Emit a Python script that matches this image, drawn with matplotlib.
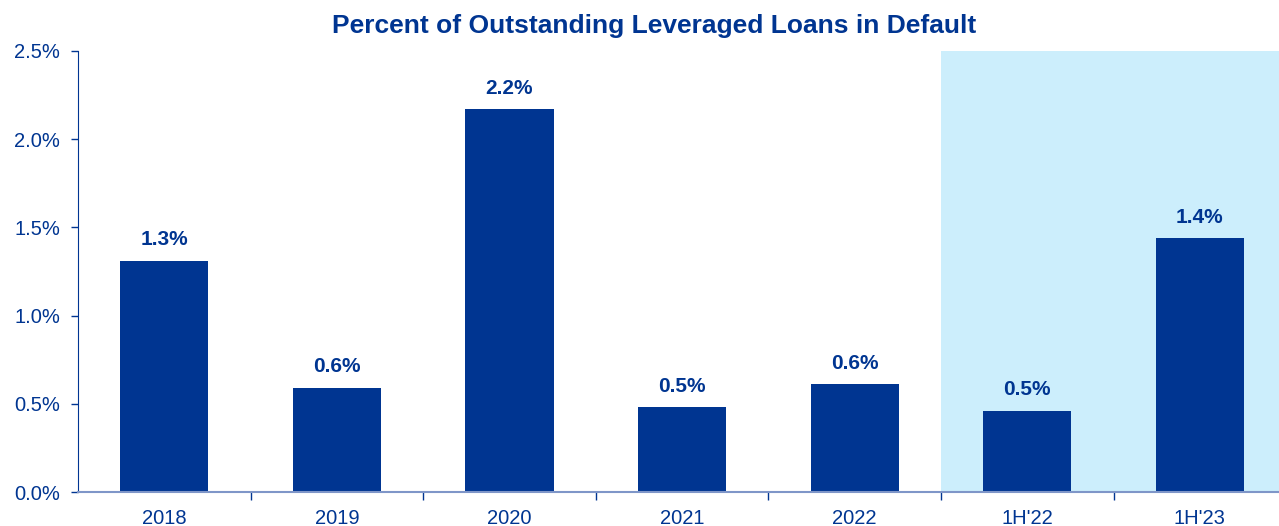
import numpy as np
import matplotlib
matplotlib.use('Agg')
import matplotlib.pyplot as plt

categories = ['2018', '2019', '2020', '2021', '2022', "1H'22", "1H'23"]
default_pct = [1.31, 0.59, 2.17, 0.48, 0.61, 0.46, 1.44]
value_labels = ['1.3%', '0.6%', '2.2%', '0.5%', '0.6%', '0.5%', '1.4%']
yticks = [0.0, 0.5, 1.0, 1.5, 2.0, 2.5]

navy = '#003591'
plt.rcParams['font.family'] = ['Liberation Sans', 'DejaVu Sans']

W, H = 1279, 526
fig = plt.figure(figsize=(W / 100, H / 100), dpi=100)
ax = fig.add_axes([78 / W, 1 - 492 / H, (W - 78) / W, (492 - 51) / H])

x = np.arange(len(categories))
# highlight the half-year comparison
ax.axvspan(4.5, 6.5, ymin=0, ymax=1.005, color='#CCEEFC', zorder=0, lw=0)
ax.bar(x, default_pct, width=0.51, color=navy, zorder=2)

for xi, v, lab in zip(x, default_pct, value_labels):
    ax.text(xi, v + 0.065, lab, ha='center', va='bottom', fontsize=15,
            fontweight='bold', color=navy)

ax.set_xlim(-0.5, -0.5 + (W - 78) / 172.6)
ax.set_ylim(0, 2.5)
ax.set_yticks(yticks)
ax.set_yticklabels(['%.1f%%' % t for t in yticks])
ax.set_xticks(x)
ax.set_xticklabels(categories)
ax.set_xticks(np.arange(0.5, 6.5, 1), minor=True)
ax.tick_params(axis='x', which='major', length=0, pad=12, labelsize=14.5, labelcolor=navy)
ax.tick_params(axis='x', which='minor', length=6, width=1, color=navy, direction='out')
ax.tick_params(axis='y', length=5, width=1, color=navy, labelsize=14.5, labelcolor=navy, pad=8)

for s in ['top', 'right']:
    ax.spines[s].set_visible(False)
ax.spines['left'].set_color(navy)
ax.spines['bottom'].set_color('#7F96C8')
ax.spines['bottom'].set_linewidth(1.5)
ax.spines['bottom'].set_zorder(3)

fig.text(654 / W, 1 - 26 / H, 'Percent of Outstanding Leveraged Loans in Default',
         ha='center', va='center', fontsize=19, fontweight='bold', color=navy)

fig.savefig('out.png', dpi=100)
